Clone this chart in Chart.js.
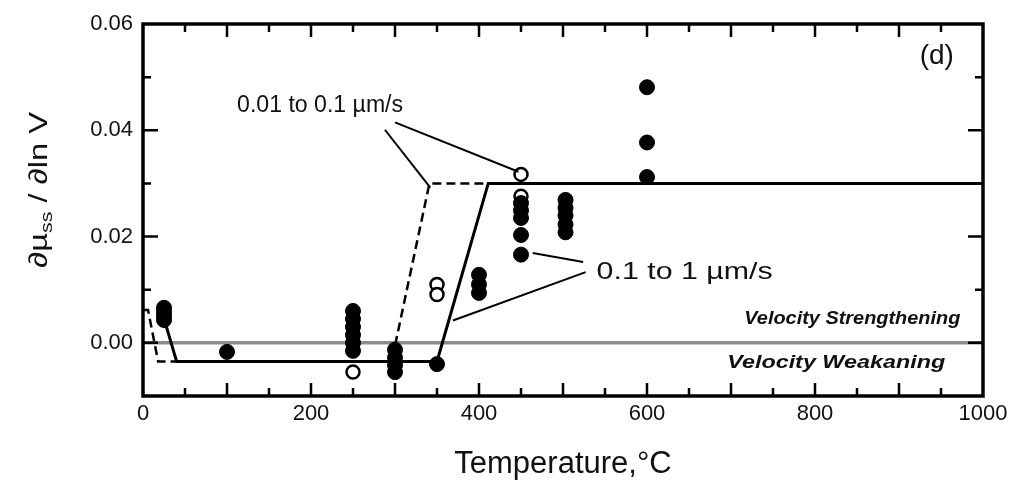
<!DOCTYPE html>
<html>
<head>
<meta charset="utf-8">
<script src="https://cdn.jsdelivr.net/npm/chart.js@4.4.1/dist/chart.umd.min.js"></script>
<style>
  html, body { margin: 0; padding: 0; background: #fff; }
  #wrap { width: 1014px; height: 491px; position: relative; }
</style>
</head>
<body>
<div id="wrap"><canvas id="c"></canvas></div>
<script>
// Measured rate sensitivity d(mu_ss)/d(ln V) against temperature (°C)
const filledT = [25, 25, 25, 25,
                 100,
                 250, 250, 250, 250, 250, 250,
                 300, 300, 300, 300,
                 350,
                 400, 400, 400,
                 450, 450, 450, 450, 450,
                 503, 503, 503, 503, 503,
                 600, 600, 600];
const filledV = [0.0066, 0.0058, 0.0050, 0.0043,
                 -0.0017,
                 0.0060, 0.0045, 0.0030, 0.0015, 0.0000, -0.0015,
                 -0.0013, -0.0028, -0.0042, -0.0055,
                 -0.0040,
                 0.0128, 0.0110, 0.0094,
                 0.0263, 0.0249, 0.0235, 0.0203, 0.0166,
                 0.0269, 0.0254, 0.0240, 0.0223, 0.0208,
                 0.0481, 0.0377, 0.0312];
const openT = [250, 350, 350, 450, 450];
const openV = [-0.0055, 0.0110, 0.0091, 0.0317, 0.0276];

// Steady-state envelopes: 0.1-1 µm/s (solid) and 0.01-0.1 µm/s (dashed)
const fastT = [22, 40, 350, 411, 1000];
const fastV = [0.0062, -0.0035, -0.0035, 0.030, 0.030];
const slowT = [0, 6, 18, 296, 341, 411];
const slowV = [0.0062, 0.0062, -0.0035, -0.0035, 0.030, 0.030];

// Neutral line separating strengthening from weakening
const neutralT = [0, 1000];
const neutralV = [0, 0];

// Leader lines from the rate labels to the curves / points
const leaderT = [[288, 342], [300, 447], [369, 527], [464, 524]];
const leaderV = [[0.0401, 0.0292], [0.0415, 0.0322], [0.0042, 0.0133], [0.0169, 0.0152]];

// Axis tick labels
const xTickValues = [0, 200, 400, 600, 800, 1000];
const yTickValues = [0, 0.02, 0.04, 0.06];

const toPts = (xs, ys) => xs.map((x, i) => ({ x: x, y: ys[i] }));

const datasets = [
  { label: 'fast', data: toPts(fastT, fastV), showLine: true, borderColor: '#000',
    borderWidth: 3, pointRadius: 0, fill: false, order: 0 },
  { label: 'slow', data: toPts(slowT, slowV), showLine: true, borderColor: '#000',
    borderWidth: 2.5, borderDash: [9, 5], pointRadius: 0, fill: false, order: 0 }
];
leaderT.forEach((xs, i) => datasets.push({
  label: 'leader' + i, data: toPts(xs, leaderV[i]), showLine: true, borderColor: '#000',
  borderWidth: 2, pointRadius: 0, fill: false, order: 0
}));
datasets.push(
  { label: 'filled', data: toPts(filledT, filledV), showLine: false,
    backgroundColor: '#000', borderColor: '#000', borderWidth: 1, pointRadius: 7.5, order: 1 },
  { label: 'open', data: toPts(openT, openV), showLine: false,
    backgroundColor: '#fff', borderColor: '#000', borderWidth: 2.5, pointRadius: 6.5, order: 1 },
  { label: 'neutral', data: toPts(neutralT, neutralV), showLine: true, borderColor: '#8c8c8c',
    borderWidth: 3.5, pointRadius: 0, fill: false, order: 2 }
);

// Free text placed in data coordinates
const notes = [
  { text: '0.01 to 0.1 \u00b5m/s', x: 112, y: 0.0447, align: 'left', font: '23px Arial', width: 166 },
  { text: '0.1 to 1 \u00b5m/s', x: 540, y: 0.01325, align: 'left', font: '24px Arial', width: 176 },
  { text: 'Velocity Strengthening', x: 973, y: 0.0045, align: 'right', font: 'italic bold 19px Arial', width: 216 },
  { text: 'Velocity Weakaning', x: 955, y: -0.0038, align: 'right', font: 'italic bold 19px Arial', width: 218 },
  { text: '(d)', x: 945, y: 0.0540, align: 'center', font: '28px Arial', width: 0 }
];

function drawFitted(ctx, text, x, y, font, width, align) {
  ctx.save();
  ctx.font = font;
  ctx.textBaseline = 'middle';
  const w = ctx.measureText(text).width;
  const sx = width > 0 ? width / w : 1;
  const drawn = w * sx;
  let left = x;
  if (align === 'right') left = x - drawn;
  else if (align === 'center') left = x - drawn / 2;
  ctx.translate(left, y);
  ctx.scale(sx, 1);
  ctx.textAlign = 'left';
  ctx.fillText(text, 0, 0);
  ctx.restore();
}

const framePlugin = {
  id: 'frame',
  afterDatasetsDraw(chart) {
    const { ctx, chartArea: a, scales: { x, y } } = chart;
    ctx.save();
    ctx.strokeStyle = '#000';
    ctx.lineCap = 'butt';
    // inward tick marks on all four sides
    ctx.lineWidth = 2.5;
    for (let v = 50; v < 1000; v += 50) {
      const px = x.getPixelForValue(v);
      const len = v % 100 === 0 ? 13 : 8;
      ctx.beginPath();
      ctx.moveTo(px, a.bottom); ctx.lineTo(px, a.bottom - len);
      ctx.moveTo(px, a.top); ctx.lineTo(px, a.top + len);
      ctx.stroke();
    }
    for (let k = 0; k <= 5; k++) {
      const v = k * 0.01;
      const py = y.getPixelForValue(v);
      const len = k % 2 === 0 ? 15 : 8;
      ctx.beginPath();
      ctx.moveTo(a.left, py); ctx.lineTo(a.left + len, py);
      ctx.moveTo(a.right, py); ctx.lineTo(a.right - len, py);
      ctx.stroke();
    }
    // frame
    ctx.lineWidth = 3.5;
    ctx.strokeRect(a.left, a.top, a.right - a.left, a.bottom - a.top);

    // annotations
    ctx.fillStyle = '#111';
    notes.forEach(n => drawFitted(ctx, n.text, x.getPixelForValue(n.x), y.getPixelForValue(n.y),
      n.font, n.width, n.align));

    // y-axis title with subscript, rotated
    ctx.translate(38, 190);
    ctx.rotate(-Math.PI / 2);
    ctx.textBaseline = 'alphabetic';
    ctx.textAlign = 'left';
    const big = '26px Arial', small = '17px Arial';
    const parts = [['\u2202\u00b5', big, 0], ['ss', small, 5], [' / \u2202ln V', big, 0]];
    let total = 0;
    parts.forEach(p => { ctx.font = p[1]; total += ctx.measureText(p[0]).width; });
    const scaleX = 156 / total;
    ctx.scale(scaleX, 1);
    let cx = -total / 2;
    parts.forEach(p => {
      ctx.font = p[1];
      ctx.fillText(p[0], cx, 9 + p[2]);
      cx += ctx.measureText(p[0]).width;
    });
    ctx.restore();
  }
};

new Chart(document.getElementById('c'), {
  type: 'scatter',
  data: { datasets: datasets },
  options: {
    responsive: true,
    maintainAspectRatio: false,
    animation: false,
    events: [],
    layout: { padding: { top: 24, right: 31, left: 0, bottom: 0 } },
    plugins: { legend: { display: false }, tooltip: { enabled: false } },
    scales: {
      x: {
        type: 'linear', min: 0, max: 1000,
        grid: { display: false, drawTicks: false },
        border: { display: false },
        afterBuildTicks: s => { s.ticks = xTickValues.map(v => ({ value: v })); },
        afterFit: s => { s.height = 95; },
        ticks: { font: { family: 'Arial', size: 22 }, color: '#111', padding: 5, maxRotation: 0,
                 callback: v => String(v) },
        title: { display: true, text: 'Temperature,\u00b0C', font: { family: 'Arial', size: 31 },
                 color: '#111', padding: { top: 0, bottom: 8 } }
      },
      y: {
        type: 'linear', min: -0.01, max: 0.06,
        grid: { display: false, drawTicks: false },
        border: { display: false },
        afterBuildTicks: s => { s.ticks = yTickValues.map(v => ({ value: v })); },
        afterFit: s => { s.width = 143; },
        ticks: { font: { family: 'Arial', size: 22 }, color: '#111', padding: 10,
                 callback: v => Number(v).toFixed(2) }
      }
    }
  },
  plugins: [framePlugin]
});
</script>
</body>
</html>
